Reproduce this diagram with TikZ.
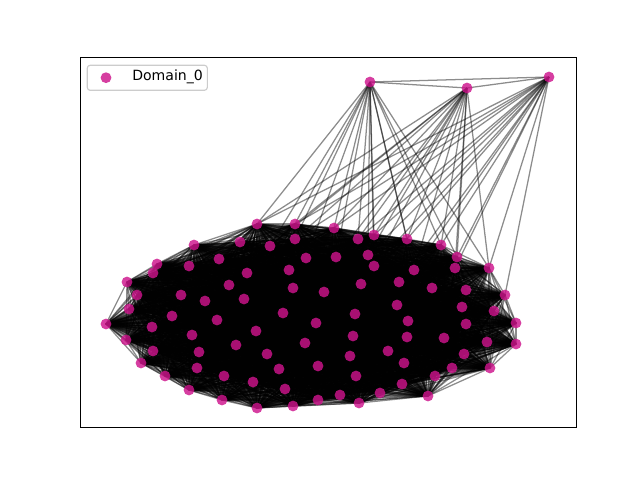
\documentclass[tikz,border=0pt]{standalone}
\usepackage{fontspec}
\setmainfont{DejaVu Sans}
\usepackage{xcolor}
\usepackage{tikz}
\usetikzlibrary{backgrounds}
\definecolor{domainpink}{RGB}{205, 20, 140}
\definecolor{legendgray}{RGB}{204, 204, 204}

\begin{document}
\begin{tikzpicture}[
    x={(0.025cm,0)}, y={(0,-0.025cm)},
    font=\fontsize{10}{12}\selectfont,
    vertex/.style={circle, fill=domainpink, fill opacity=0.82, inner sep=0pt, minimum size=0.27cm},
    edge/.style={draw=black, opacity=0.45, line width=0.9pt},
    legendbox/.style={rectangle, draw=legendgray, fill=white, fill opacity=0.8, rounded corners=2pt, minimum width=3cm, minimum height=0.625cm, line width=0.8pt}
]
    \useasboundingbox (0,0) rectangle (640,480);
    \draw[line width=0.7pt] (80,57) rectangle (576,427);

    % domain vertices (91 in the cluster, 3 hubs on top)
    \foreach \x/\y [count=\k] in {
        257/224, 295/224, 334/228, 374/235, 358/239, 407/239, 295/239, 441/245, 270/246, 240/242,
        194/245, 219/259, 157/264, 189/266, 153/273, 247/273, 127/282, 229/285, 137/295, 181/295,
        244/299, 205/301, 129/309, 172/316, 217/320, 106/324, 152/327, 256/331, 192/335, 126/340,
        236/345, 153/351, 199/352, 267/354, 141/363, 197/368, 165/376, 224/376, 253/382, 189/390,
        222/400, 257/408, 368/255, 306/258, 336/257, 374/266, 289/270, 414/270, 293/288, 324/292,
        361/284, 399/282, 397/305, 283/313, 355/314, 316/323, 408/321, 353/336, 407/337, 305/343,
        350/356, 388/351, 404/363, 318/366, 279/369, 356/376, 402/384, 285/389, 340/395, 380/393,
        318/400, 359/403, 293/406, 457/257, 455/268, 489/268, 432/288, 466/290, 505/295, 462/307,
        494/311, 466/324, 516/323, 444/338, 487/342, 516/344, 464/354, 452/368, 490/368, 435/376,
        428/396, 370/82, 467/88, 549/77}
        \node[vertex] (n\k) at (\x,\y) {};

    \begin{scope}[on background layer]
        % dense cluster
        \foreach \i in {1,...,90} {
            \pgfmathtruncatemacro{\nxt}{\i+1}
            \foreach \j in {\nxt,...,91}
                \draw[edge] (n\i.center) -- (n\j.center);
        }
        % hubs
        \draw[edge] (n92.center) -- (n93.center);
        \draw[edge] (n92.center) -- (n94.center);
        \draw[edge] (n93.center) -- (n94.center);
        \foreach \j in {1,2,7,9,3,5,4,43,45,46,6,8,48,74,76,44}
            \draw[edge] (n92.center) -- (n\j.center);
        \foreach \j in {1,2,3,7,4,5,6,43,46,8,74,75,76,48,9,45}
            \draw[edge] (n93.center) -- (n\j.center);
        \foreach \j in {1,2,3,4,5,6,8,74,75,76,79,48,43,46,52,7}
            \draw[edge] (n94.center) -- (n\j.center);
    \end{scope}

    % legend
    \node[legendbox] (legend) at (147.3,77.8) {};
    \node[vertex] (legdot) at (106,77.7) {};
    \node[anchor=west, inner sep=0pt] (legtext) at (132,76.5) {Domain\_0};
\end{tikzpicture}
\end{document}
